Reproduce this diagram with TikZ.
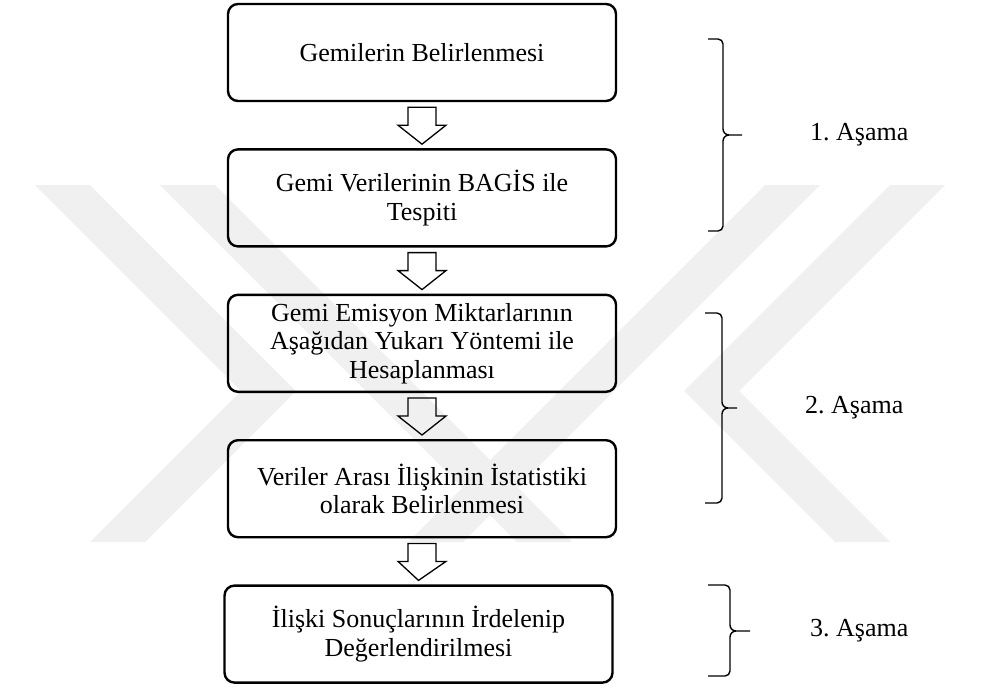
\documentclass[tikz,border=0pt]{standalone}
\usepackage{fontspec}
\setmainfont{Liberation Serif}
\frenchspacing
\usetikzlibrary{calc,positioning}

\definecolor{filigran}{HTML}{F0F0F0}

\tikzstyle{kutu} = [draw, rounded corners=10pt, line width=2.4pt, minimum width=388pt, minimum height=97pt, inner sep=0pt, align=center, font=\fontsize{26pt}{28.5pt}\selectfont]
\tikzstyle{haak} = [draw, line width=1.4pt]
\tikzstyle{etiket} = [inner sep=0pt, font=\fontsize{26pt}{28.5pt}\selectfont]
\tikzstyle{iz} = [fill=filigran, draw=none]

\begin{document}
\begin{tikzpicture}[x=1pt, y=1pt, grow=down, level distance=145.4pt,
    edge from parent/.style={draw, line width=1.3pt, line join=miter, sharp corners},
    edge from parent path={($(\tikzparentnode.south)+(-14,-5)$) -- ($(\tikzparentnode.south)+(-14,-23)$)
        -- ($(\tikzparentnode.south)+(-24,-23)$) -- ($(\tikzchildnode.north)+(0,4)$)
        -- ($(\tikzparentnode.south)+(24,-23)$) -- ($(\tikzparentnode.south)+(14,-23)$)
        -- ($(\tikzparentnode.south)+(14,-5)$) -- cycle}]
\useasboundingbox (0,0) rectangle (981,-688);
%filigran
\fill[iz] (35,-185) -- (90,-185) -- (296,-391) -- (145,-542) -- (90,-542) -- (241,-391) -- cycle;
\fill[iz] (160,-185) -- (215,-185) -- (572,-542) -- (517,-542) -- cycle;
\fill[iz] (945,-185) -- (890,-185) -- (684,-391) -- (835,-542) -- (890,-542) -- (739,-391) -- cycle;
\fill[iz] (820,-185) -- (765,-185) -- (408,-542) -- (463,-542) -- cycle;
%kutular
\node[kutu] (gemi) at (422,-52.5) {Gemilerin Belirlenmesi}
%begin bagis
    child {
        node[kutu] (bagis) {Gemi Verilerinin BAGİS ile\\Tespiti}
%begin emisyon
        child {
            node[kutu] (emisyon) {Gemi Emisyon Miktarlarının\\Aşağıdan Yukarı Yöntemi ile\\Hesaplanması}
%begin iliski
            child {
                node[kutu] (iliski) {Veriler Arası İlişkinin İstatistiki\\olarak Belirlenmesi}
%begin sonuc
                child {
                    node[kutu, xshift=-3.5pt] (sonuc) {İlişki Sonuçlarının İrdelenip\\Değerlendirilmesi}
                }
%end sonuc
            }
%end iliski
        }
%end emisyon
    };
%end bagis
%begin asama1
\coordinate (uc1) at (742,-135);
\draw[haak] (708,-39) -- (718,-39) arc[start angle=90, end angle=0, radius=5] -- (723,-129)
    arc[start angle=180, end angle=270, radius=6] -- (uc1);
\draw[haak] (729,-135) arc[start angle=90, end angle=180, radius=6] -- (723,-226)
    arc[start angle=0, end angle=-90, radius=5] -- (708,-231);
\node[etiket, right=68pt of uc1] (asama1) {1. Aşama};
%end asama1
%begin asama2
\coordinate (uc2) at (737,-408);
\draw[haak] (705,-313) -- (717,-313) arc[start angle=90, end angle=0, radius=5] -- (722,-402)
    arc[start angle=180, end angle=270, radius=6] -- (uc2);
\draw[haak] (728,-408) arc[start angle=90, end angle=180, radius=6] -- (722,-498)
    arc[start angle=0, end angle=-90, radius=5] -- (705,-503);
\node[etiket, right=68pt of uc2] (asama2) {2. Aşama};
%end asama2
%begin asama3
\coordinate (uc3) at (750,-631);
\draw[haak] (708,-585) -- (725,-585) arc[start angle=90, end angle=0, radius=5] -- (730,-625)
    arc[start angle=180, end angle=270, radius=6] -- (uc3);
\draw[haak] (736,-631) arc[start angle=90, end angle=180, radius=6] -- (730,-671)
    arc[start angle=0, end angle=-90, radius=5] -- (708,-676);
\node[etiket, right=60pt of uc3] (asama3) {3. Aşama};
%end asama3
\end{tikzpicture}
\end{document}
